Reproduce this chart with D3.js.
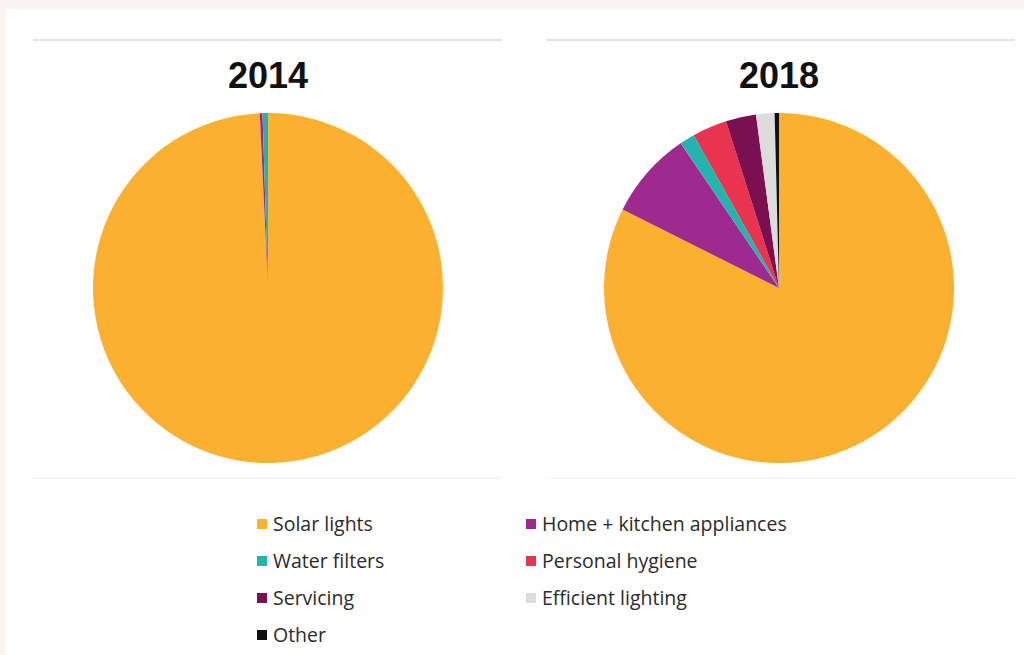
<!DOCTYPE html>
<html>
<head>
<meta charset="utf-8">
<script src="https://cdn.jsdelivr.net/npm/d3@7/dist/d3.min.js"></script>
<style>
  html, body { margin: 0; padding: 0; background: #f9f4f1; }
  svg { display: block; }
</style>
</head>
<body>
<svg id="chart" width="1024" height="655"></svg>
<script>
// Product categories, in legend / slice order
const categories = [
  "Solar lights",
  "Home + kitchen appliances",
  "Water filters",
  "Personal hygiene",
  "Servicing",
  "Efficient lighting",
  "Other"
];
const colors = ["#fbb12f", "#9f2a8f", "#22b5ad", "#e8344f", "#7a1050", "#dcdcdc", "#111111"];

// Share of sales (%) per category
const years = ["2014", "2018"];
const values2014 = [99.25, 0.25, 0.5, 0, 0, 0, 0];
const values2018 = [82.4, 8.1, 1.4, 3.2, 2.8, 1.7, 0.4];
const seriesValues = [values2014, values2018];

const svg = d3.select("#chart");
const W = 1024, H = 655;

// White panel
svg.append("rect").attr("x", 6).attr("y", 9).attr("width", W - 6).attr("height", H - 9).attr("fill", "#ffffff");

const color = d3.scaleOrdinal().domain(categories).range(colors);

const panels = [
  { x0: 33, x1: 502, cx: 268 },
  { x0: 546, x1: 1015, cx: 779 }
];
const cy = 288, radius = 175;

const pie = d3.pie().sort(null).value(d => d.value);
const arc = d3.arc().innerRadius(0).outerRadius(radius);

panels.forEach((p, i) => {
  // barely-tinted panel background for the second chart
  if (i === 1) {
    svg.append("rect").attr("x", p.x0).attr("y", 41).attr("width", p.x1 - p.x0).attr("height", 437)
      .attr("fill", "#fefefe");
  }
  // top rule
  svg.append("line").attr("x1", p.x0).attr("x2", p.x1).attr("y1", 40).attr("y2", 40)
    .attr("stroke", "#e2e2e2").attr("stroke-width", 2);
  // bottom rule
  svg.append("line").attr("x1", p.x0).attr("x2", p.x1).attr("y1", 478).attr("y2", 478)
    .attr("stroke", "#f3f3f3").attr("stroke-width", 1.5);

  svg.append("text")
    .attr("x", p.cx).attr("y", 88)
    .attr("text-anchor", "middle")
    .attr("font-family", "Liberation Sans, Arial, sans-serif")
    .attr("font-weight", "bold")
    .attr("font-size", 36)
    .attr("fill", "#111")
    .text(years[i]);

  const data = categories.map((c, k) => ({ key: c, value: seriesValues[i][k] }));
  const g = svg.append("g").attr("transform", `translate(${p.cx},${cy})`);
  g.selectAll("path")
    .data(pie(data).filter(d => d.data.value > 0))
    .join("path")
    .attr("d", arc)
    .attr("fill", d => color(d.data.key));
});

// Legend: two columns
const legendCols = [257, 526];
const legendRows = [524, 561, 598, 635];
const legend = svg.append("g");
categories.forEach((c, k) => {
  const x = legendCols[k % 2];
  const y = legendRows[Math.floor(k / 2)];
  legend.append("rect").attr("x", x).attr("y", y - 5).attr("width", 10).attr("height", 10)
    .attr("fill", color(c));
  legend.append("text")
    .attr("x", x + 16).attr("y", y)
    .attr("dy", "0.36em")
    .attr("font-family", "Open Sans, sans-serif")
    .attr("font-size", 19.5)
    .attr("fill", "#2b2b2b")
    .text(c);
});
</script>
</body>
</html>
